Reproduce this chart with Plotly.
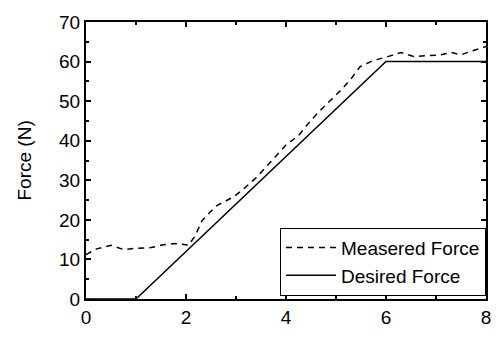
import plotly.graph_objects as go

# Data
meas_x = [0, 0.2, 0.5, 0.75, 1.0, 1.3, 1.55, 1.8, 2.05, 2.18, 2.32, 2.6, 2.95, 3.15,
          3.4, 3.6, 3.8, 4.0, 4.25, 4.45, 4.65, 4.85, 5.1, 5.3, 5.48, 5.75, 6.0, 6.3,
          6.55, 6.85, 7.1, 7.3, 7.5, 7.7, 8.0]
meas_y = [11.2, 12.6, 13.6, 12.5, 12.8, 13.0, 13.7, 14.0, 13.6, 15.9, 19.8, 23.5, 25.8, 27.8,
          30.6, 33.3, 36.1, 38.9, 41.3, 44.4, 47.2, 49.6, 52.8, 55.6, 58.7, 60.3, 61.1, 62.3,
          61.3, 61.5, 61.7, 62.3, 61.7, 62.6, 63.8]
des_x = [0, 1, 6, 8]
des_y = [0, 0, 60, 60]

x_ticks = [0, 2, 4, 6, 8]
y_ticks = [0, 10, 20, 30, 40, 50, 60, 70]

FONT = "Liberation Sans, Arial, sans-serif"

fig = go.Figure()
fig.add_trace(go.Scatter(x=meas_x, y=meas_y, mode="lines", name="Measered Force",
                         line=dict(color="black", width=1.5, dash="6px,5px")))
fig.add_trace(go.Scatter(x=des_x, y=des_y, mode="lines", name="Desired Force",
                         line=dict(color="black", width=1.5)))

axis_common = dict(showgrid=False, zeroline=False, showline=True, linecolor="black",
                   linewidth=2, mirror="ticks", ticks="inside", ticklen=5, tickwidth=1.5,
                   tickcolor="black", tickfont=dict(family=FONT, size=19, color="black"))

fig.update_xaxes(range=[0, 8], tickvals=x_ticks, ticktext=[str(v) for v in x_ticks],
                 minor=dict(ticks="inside", ticklen=3, dtick=1, tickwidth=1.5, tickcolor="black"),
                 **axis_common)
fig.update_yaxes(range=[0, 70], tickvals=y_ticks, ticktext=[str(v) for v in y_ticks],
                 minor=dict(ticks="inside", ticklen=3, dtick=5, tickwidth=1.5, tickcolor="black"),
                 **axis_common)

fig.add_annotation(text="Force (N)", xref="paper", yref="paper", x=-0.155, y=0.5,
                   xanchor="center", yanchor="middle", textangle=-90, showarrow=False,
                   font=dict(family=FONT, size=19, color="black"))

fig.update_layout(
    width=504, height=340,
    margin=dict(l=86, r=18, t=16, b=30),
    paper_bgcolor="white", plot_bgcolor="white",
    showlegend=True,
    legend=dict(x=1, xanchor="right", y=0.135, yanchor="middle",
                bgcolor="white", bordercolor="black", borderwidth=1,
                font=dict(family=FONT, size=19, color="black"),
                tracegroupgap=0, itemwidth=50),
    font=dict(family=FONT, color="black"),
)

fig.write_html("out.html")
